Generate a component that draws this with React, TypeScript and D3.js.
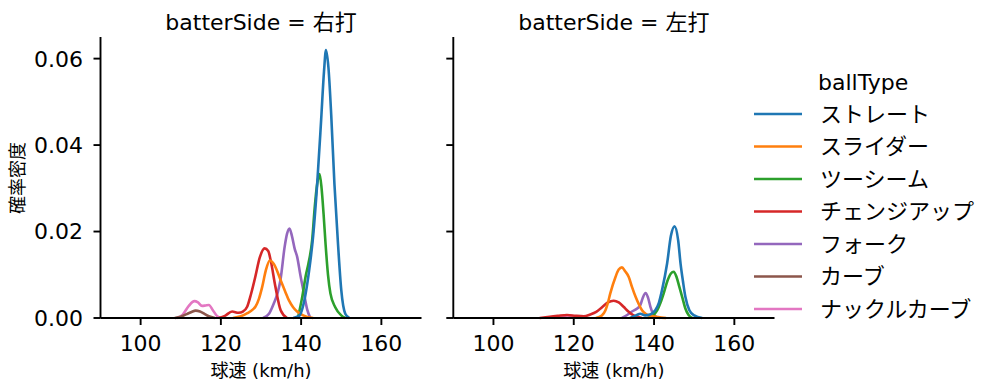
import React from "react";
import * as d3 from "d3";

const ballTypes = ["ストレート", "スライダー", "ツーシーム", "チェンジアップ", "フォーク", "カーブ", "ナックルカーブ"];
const colors = ["#1f77b4", "#ff7f0e", "#2ca02c", "#d62728", "#9467bd", "#8c564b", "#e377c2"];
const panels = ["右打", "左打"];
const xTicks = [100, 120, 140, 160];
const yTicks = [0, 0.02, 0.04, 0.06];

// 右打 (right-handed batters)
const rStraightX = [138, 139.5, 141, 142, 143, 144, 145, 145.7, 146.2, 146.8, 147.5, 148.3, 149.2, 150, 151, 152];
const rStraightY = [0, 0.0005, 0.005, 0.011, 0.019, 0.031, 0.046, 0.057, 0.062, 0.058, 0.047, 0.031, 0.017, 0.0065, 0.001, 0];
const rSliderX = [123, 125, 126.6, 128, 128.6, 129.5, 130.3, 131.2, 132.2, 133.2, 135, 136, 137, 138, 139, 140.5, 143];
const rSliderY = [0, 0.0004, 0.0011, 0.002, 0.0026, 0.0045, 0.0072, 0.011, 0.0133, 0.0125, 0.0085, 0.0062, 0.004, 0.0025, 0.0015, 0.0006, 0];
const rTwoSeamX = [139.2, 140.3, 141.2, 141.8, 142.75, 143.4, 144.0, 144.6, 145.1, 145.6, 146.1, 146.7, 147.3, 148.5, 150, 151];
const rTwoSeamY = [0, 0.005, 0.01, 0.0125, 0.018, 0.0257, 0.031, 0.0333, 0.03, 0.024, 0.017, 0.01, 0.0057, 0.0025, 0.0006, 0];
const rChangeX = [119.5, 121, 122.8, 124.4, 125.5, 126.55, 127.5, 128.6, 129.7, 130.9, 131.8, 132.4, 133.6, 134.9, 136.5];
const rChangeY = [0, 0.0005, 0.0015, 0.0012, 0.0015, 0.0026, 0.0055, 0.0096, 0.014, 0.0161, 0.0155, 0.0134, 0.0072, 0.0018, 0];
const rForkX = [130.5, 132, 133.2, 134.2, 134.85, 135.9, 136.5, 137.1, 137.7, 138.4, 139, 139.8, 140.7, 141.5, 142.3];
const rForkY = [0, 0.001, 0.0034, 0.006, 0.0088, 0.0165, 0.0195, 0.0207, 0.019, 0.016, 0.0142, 0.01, 0.0057, 0.002, 0];
const rCurveX = [108.5, 110, 111.5, 112.7, 113.7, 114.8, 116, 117, 118.5];
const rCurveY = [0, 0.0003, 0.0009, 0.0014, 0.0017, 0.0015, 0.0009, 0.0004, 0];
const rKnuckleX = [109, 110.5, 112, 113.4, 114.3, 115.3, 116.2, 117, 118, 119, 120];
const rKnuckleY = [0, 0.0008, 0.0028, 0.0039, 0.0036, 0.0028, 0.0029, 0.003, 0.0018, 0.0005, 0];

// 左打 (left-handed batters)
const lStraightX = [134, 135.5, 136.6, 137.8, 139, 140.3, 141.2, 142, 143.25, 144.2, 145.1, 146, 146.6, 147.2, 147.8, 148.8, 150, 152];
const lStraightY = [0, 0.0006, 0.001, 0.0006, 0.0008, 0.0018, 0.0035, 0.0065, 0.0126, 0.019, 0.0212, 0.018, 0.0126, 0.0085, 0.0049, 0.0018, 0.0006, 0];
const lSliderX = [125.5, 127, 127.9, 128.5, 129.1, 130.4, 131.2, 132, 132.8, 133.7, 134.5, 135.4, 136.2, 137, 138, 139.1, 141, 143];
const lSliderY = [0, 0.0006, 0.0018, 0.0035, 0.0057, 0.0095, 0.0112, 0.0117, 0.0108, 0.0095, 0.0072, 0.0049, 0.0032, 0.0018, 0.0009, 0.0005, 0.0002, 0];
const lTwoSeamX = [138.5, 140, 140.8, 141.6, 142.4, 143.3, 144.2, 144.9, 145.6, 146.3, 147, 147.8, 148.6, 149.5];
const lTwoSeamY = [0, 0.0008, 0.0018, 0.0035, 0.0057, 0.0085, 0.0103, 0.0107, 0.0095, 0.0072, 0.0049, 0.0022, 0.0007, 0];
const lChangeX = [111.5, 114, 116, 118.3, 120.5, 122.5, 124.1, 125.6, 127.05, 128.5, 129.95, 131.2, 132.4, 133.6, 134.9, 137];
const lChangeY = [0, 0.0003, 0.0005, 0.0007, 0.0005, 0.0004, 0.0008, 0.0014, 0.0025, 0.0036, 0.004, 0.0036, 0.0026, 0.0015, 0.0006, 0];
const lForkX = [132, 133.3, 134.5, 135.8, 136.6, 137.2, 137.9, 138.5, 139.1, 139.7, 140.3, 141.5];
const lForkY = [0, 0.0007, 0.0015, 0.0022, 0.003, 0.0047, 0.0058, 0.0047, 0.0026, 0.0011, 0.0004, 0];
const lKnuckleX = [115, 117, 118.5, 120, 122];
const lKnuckleY = [0, 0.0004, 0.0006, 0.0004, 0];

const seriesX = [
  [rStraightX, rSliderX, rTwoSeamX, rChangeX, rForkX, rCurveX, rKnuckleX],
  [lStraightX, lSliderX, lTwoSeamX, lChangeX, lForkX, null, lKnuckleX],
];
const seriesY = [
  [rStraightY, rSliderY, rTwoSeamY, rChangeY, rForkY, rCurveY, rKnuckleY],
  [lStraightY, lSliderY, lTwoSeamY, lChangeY, lForkY, null, lKnuckleY],
];

const FONT = "'DejaVu Sans', 'Noto Sans CJK JP', sans-serif";

export default function App() {
  const W = 999, H = 391;
  const top = 37, bottom = 318;
  const panelRanges = [[100.5, 421.5], [453.3, 774.5]];
  const y = d3.scaleLinear().domain([0, 0.065]).range([bottom, top]);

  return (
    <svg width={W} height={H} style={{ position: "absolute", left: 0, top: 0, background: "#fff" }} fontFamily={FONT}>
      {panels.map((p, pi) => {
        const [x0, x1] = panelRanges[pi];
        const x = d3.scaleLinear().domain([90, 170]).range([x0, x1]);
        const line = d3.line<[number, number]>().x(d => x(d[0])).y(d => y(d[1])).curve(d3.curveMonotoneX);
        const order = ballTypes.map((_, i) => i).reverse();
        return (
          <g key={p}>
            <text x={(x0 + x1) / 2} y={30} textAnchor="middle" fontSize={22} fill="#000">{`batterSide = ${p}`}</text>
            {order.map(i => {
              const xs = seriesX[pi][i];
              const ys = seriesY[pi][i];
              if (!xs || !ys) return null;
              const pts: [number, number][] = xs.map((v, k) => [v, ys[k]]);
              return <path key={i} d={line(pts) || ""} fill="none" stroke={colors[i]} strokeWidth={2.6} strokeLinejoin="round" />;
            })}
            <line x1={x0} x2={x0} y1={top} y2={bottom} stroke="#000" strokeWidth={1.9} />
            <line x1={x0} x2={x1} y1={bottom} y2={bottom} stroke="#000" strokeWidth={1.9} />
            {xTicks.map(t => (
              <g key={t}>
                <line x1={x(t)} x2={x(t)} y1={bottom} y2={bottom + 7} stroke="#000" strokeWidth={1.9} />
                <text x={x(t)} y={351} textAnchor="middle" fontSize={22} fill="#000">{t}</text>
              </g>
            ))}
            {yTicks.map(t => (
              <g key={t}>
                <line x1={x0 - 7} x2={x0} y1={y(t)} y2={y(t)} stroke="#000" strokeWidth={1.9} />
                {pi === 0 && (
                  <text x={83} y={y(t)} dy="0.36em" textAnchor="end" fontSize={22} fill="#000">{t.toFixed(2)}</text>
                )}
              </g>
            ))}
            <text x={(x0 + x1) / 2} y={377} textAnchor="middle" fontSize={18} fill="#000">球速 (km/h)</text>
          </g>
        );
      })}
      <text transform="translate(24,178) rotate(-90)" textAnchor="middle" fontSize={18} fill="#000">確率密度</text>
      <text x={818} y={90} fontSize={22} fill="#000">ballType</text>
      {ballTypes.map((b, i) => {
        const ly = 114 + i * 32.5;
        return (
          <g key={b}>
            <line x1={754} x2={802} y1={ly} y2={ly} stroke={colors[i]} strokeWidth={2.6} />
            <text x={820} y={ly} dy="0.36em" fontSize={22} fill="#000">{b}</text>
          </g>
        );
      })}
    </svg>
  );
}
